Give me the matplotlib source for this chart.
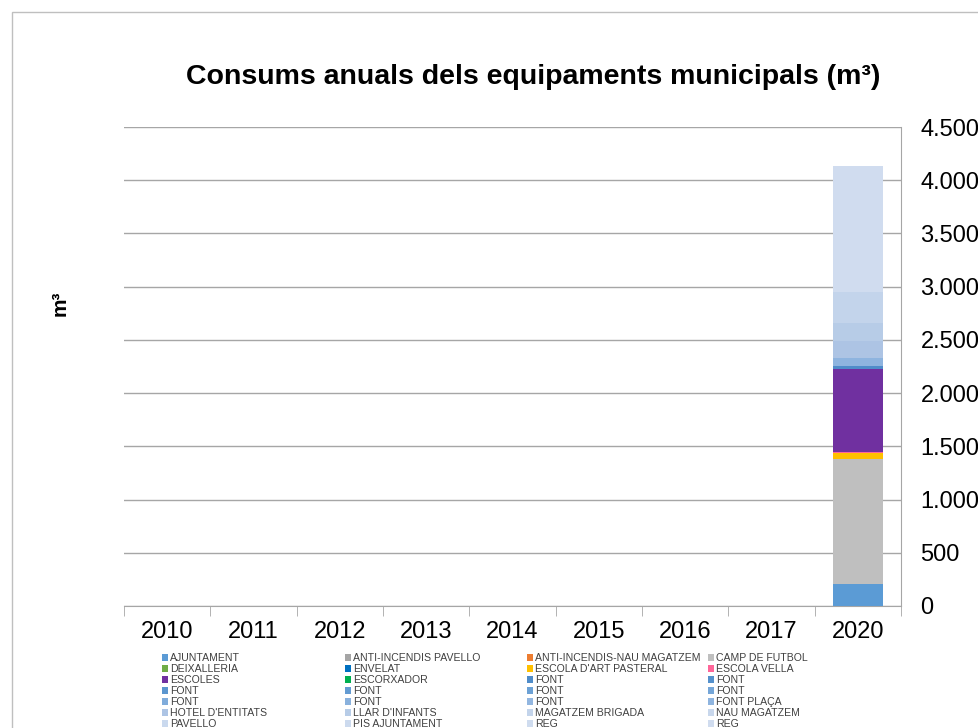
import numpy as np
import matplotlib.pyplot as plt
from matplotlib.patches import Rectangle

plt.rcParams['font.family'] = ['Liberation Sans', 'DejaVu Sans']

years = ['2010', '2011', '2012', '2013', '2014', '2015', '2016', '2017', '2020']

series_names = [
    'AJUNTAMENT', 'ANTI-INCENDIS PAVELLO', 'ANTI-INCENDIS-NAU MAGATZEM', 'CAMP DE FUTBOL',
    'DEIXALLERIA', 'ENVELAT', "ESCOLA D'ART PASTERAL", 'ESCOLA VELLA',
    'ESCOLES', 'ESCORXADOR', 'FONT', 'FONT',
    'FONT', 'FONT', 'FONT', 'FONT',
    'FONT', 'FONT', 'FONT', 'FONT PLAÇA',
    "HOTEL D'ENTITATS", "LLAR D'INFANTS", 'MAGATZEM BRIGADA', 'NAU MAGATZEM',
    'PAVELLO', 'PIS AJUNTAMENT', 'REG', 'REG',
]

series_colors = [
    '#5B9BD5', '#A5A5A5', '#ED7D31', '#BFBFBF',
    '#70AD47', '#0070C0', '#FFC000', '#FF6699',
    '#7030A0', '#00B050', '#4F8CC9', '#5591CC',
    '#5B96CF', '#639BD2', '#6CA1D5', '#75A6D8',
    '#80ACDB', '#89B1DD', '#92B6E0', '#8EB4DF',
    '#ADC4E4', '#B7CCE7', '#C3D4EB', '#C8D7EC',
    '#CAD9EE', '#CCDAEE', '#CFDCEF', '#D0DCEF',
]

# only 2020 has data
values_2020 = [
    210, 0, 0, 1171,
    0, 0, 53, 16,
    780, 0, 25, 0,
    0, 0, 0, 0,
    0, 0, 0, 72,
    164, 170, 292, 0,
    0, 0, 0, 1179,
]

values = np.zeros((len(series_names), len(years)))
values[:, -1] = values_2020

fig = plt.figure(figsize=(9.79, 7.28), dpi=100)
ax = fig.add_axes([124 / 979, 1 - 606 / 728, (901 - 124) / 979, (606 - 127) / 728])

# outer chart border
fig.patches.append(Rectangle((12 / 979, -0.1), 1.2, 1 - 12 / 728 + 0.1,
                             transform=fig.transFigure, fill=False,
                             edgecolor='#BFBFBF', lw=1))

x = np.arange(len(years))
bottom = np.zeros(len(years))
handles = []
for name, col, v in zip(series_names, series_colors, values):
    b = ax.bar(x, v, bottom=bottom, width=0.58, color=col, label=name, zorder=3)
    handles.append(b)
    bottom += v

ax.set_xlim(-0.5, len(years) - 0.5)
ax.set_ylim(0, 4500)
ax.set_yticks(np.arange(0, 4501, 500))
ax.set_yticklabels([f'{int(t):,}'.replace(',', '.') for t in np.arange(0, 4501, 500)])
ax.yaxis.tick_right()
ax.grid(axis='y', color='#A6A6A6', lw=1, zorder=0)
ax.tick_params(axis='y', length=0, pad=14, labelsize=17)

ax.set_xticks(x)
ax.set_xticklabels(years)
ax.set_xticks(np.arange(-0.5, len(years)), minor=True)
ax.tick_params(axis='x', which='major', length=0, pad=11, labelsize=17)
ax.tick_params(axis='x', which='minor', length=7, color='#A6A6A6', direction='out')

for s in ['left', 'top']:
    ax.spines[s].set_visible(False)
for s in ['right', 'bottom']:
    ax.spines[s].set_color('#A6A6A6')

fig.text(533 / 979, 1 - 77 / 728, 'Consums anuals dels equipaments municipals (m³)',
         ha='center', va='center', fontsize=20.5, fontweight='bold')
fig.text(60 / 979, 1 - 303 / 728, 'm³', rotation=90, ha='center', va='center',
         fontsize=15, fontweight='bold')

# legend rows go left to right, so one legend per column
col_x = [162, 345, 527, 708]
for c in range(4):
    idx = list(range(c, len(series_names), 4))
    fig.legend([handles[i] for i in idx], [series_names[i] for i in idx],
               loc='upper left', bbox_to_anchor=(col_x[c] / 979, 1 - 653 / 728),
               frameon=False, fontsize=7.6, labelcolor='#404040',
               handlelength=0.6, handleheight=0.6, handletextpad=0.15,
               labelspacing=0.1, borderpad=0, borderaxespad=0)

fig.savefig('out.png', dpi=100)
